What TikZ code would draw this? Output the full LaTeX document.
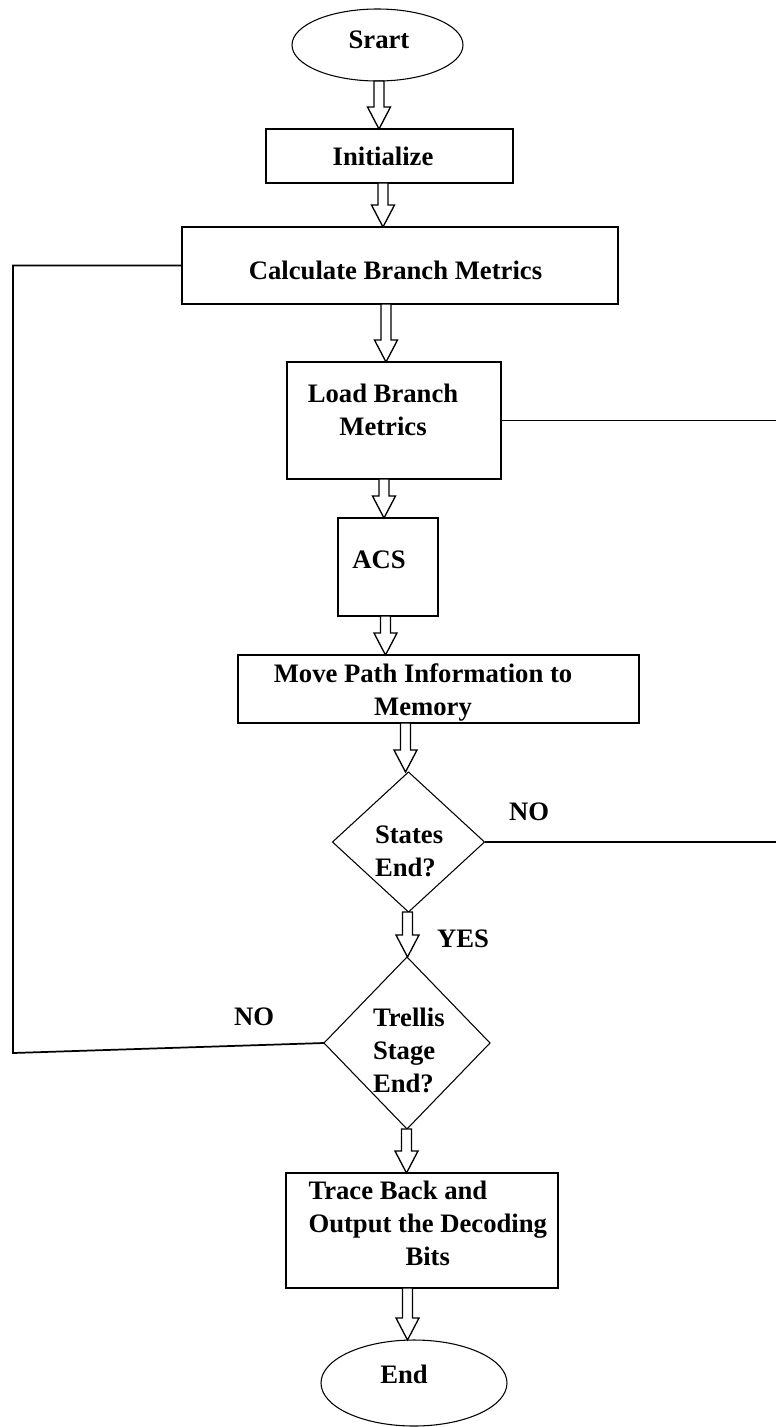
\documentclass[tikz,border=0pt]{standalone}
\usepackage{fontspec}
\setmainfont{Liberation Serif}
\usetikzlibrary{calc,shapes.geometric}
\tikzset{
  boxnode/.style={draw=black, line width=1.4pt, rectangle, inner sep=0pt, outer sep=0pt},
  ovalnode/.style={draw=black, line width=0.8pt, ellipse, inner sep=0pt, outer sep=0pt},
  decnode/.style={draw=black, line width=0.8pt, diamond, inner sep=0pt, outer sep=0pt},
  txt/.style={font=\fontsize{20pt}{24.75pt}\selectfont\bfseries, inner sep=0pt, outer sep=0pt},
  harrow/.style={draw=black, line width=1pt, line join=miter, fill=white},
  link/.style={draw=black, line width=1.3pt},
}
\newcommand{\hollowarrow}[3]{%
  \coordinate (aT) at (#1,0 |- #2);
  \coordinate (aP) at (#1,0 |- #3);
  \draw[harrow] ($(aT)+(-5,0)$) -- ($(aP)+(-5,-22)$) -- ($(aP)+(-11.5,-22)$) -- (aP)
     -- ($(aP)+(11.5,-22)$) -- ($(aP)+(5,-22)$) -- ($(aT)+(5,0)$) -- cycle;}
\begin{document}
\begin{tikzpicture}[x=0.75pt,y=-0.75pt]
\useasboundingbox (0,0) rectangle (776,1427);
\fill[white] (0,0) rectangle (776,1427);

% shapes
\node[ovalnode, minimum width=128.25pt, minimum height=54pt] (start) at (377.5,45) {};
\node[boxnode, minimum width=185.25pt, minimum height=40.5pt] (init) at (389.5,156) {};
\node[boxnode, minimum width=327pt, minimum height=57.75pt] (calc) at (400,265.5) {};
\node[boxnode, minimum width=160.5pt, minimum height=87.75pt] (load) at (394,420.5) {};
\node[boxnode, minimum width=75pt, minimum height=73.5pt] (acs) at (388,567) {};
\node[boxnode, minimum width=300.75pt, minimum height=51pt] (move) at (438.5,689) {};
\node[decnode, minimum width=114pt, minimum height=105pt] (d1) at (408.5,842) {};
\node[decnode, minimum width=124.5pt, minimum height=129pt] (d2) at (407,1043) {};
\node[boxnode, minimum width=204pt, minimum height=86.25pt] (trace) at (422,1230.5) {};
\node[ovalnode, minimum width=139.5pt, minimum height=64.5pt] (end) at (414,1383) {};

% texts
\node[txt] (tstart) at (379,40) {Srart};
\node[txt] (tinit) at (383,156) {Initialize};
\node[txt] (tcalc) at (395.5,270) {Calculate Branch Metrics};
\node[txt, align=center] (tload) at (383,409.5) {Load Branch\\Metrics};
\node[txt] (tacs) at (379,560) {ACS};
\node[txt, align=center] (tmove) at (423,692) {Move Path Information to\\Memory};
\node[txt, align=left, anchor=west] (td1) at (375,851.5) {States\\End?};
\node[txt, align=left, anchor=west] (td2) at (373,1050.5) {Trellis\\Stage\\End?};
\node[txt, align=left, anchor=west] (ttrace) at (308.5,1223.5) {Trace Back and\\Output the Decoding\\\hspace*{72.75pt}Bits};
\node[txt] (tend) at (404,1374) {End};
\node[txt] (no1) at (529,812) {NO};
\node[txt] (yes) at (463,939) {YES};
\node[txt] (no2) at (254,1017) {NO};

% connectors
\coordinate (lc1) at (13,265.5);
\coordinate (lc2) at (13,1053);
\coordinate (rr1) at (776,420.5);
\coordinate (rr2) at (776,842);
\draw[link] (calc.west) -- (lc1) -- (lc2) -- (d2.west);
\draw[link] (load.east) -- (rr1);
\draw[link] (d1.east) -- (rr2);

% hollow arrows
\hollowarrow{379}{start.south}{init.north}
\hollowarrow{383}{init.south}{calc.north}
\hollowarrow{386}{calc.south}{load.north}
\hollowarrow{384}{load.south}{acs.north}
\hollowarrow{385.5}{acs.south}{move.north}
\hollowarrow{405.5}{move.south}{d1.north}
\hollowarrow{407.5}{d1.south}{d2.north}
\hollowarrow{406.5}{d2.south}{trace.north}
\hollowarrow{407.5}{trace.south}{end.north}
\end{tikzpicture}
\end{document}
